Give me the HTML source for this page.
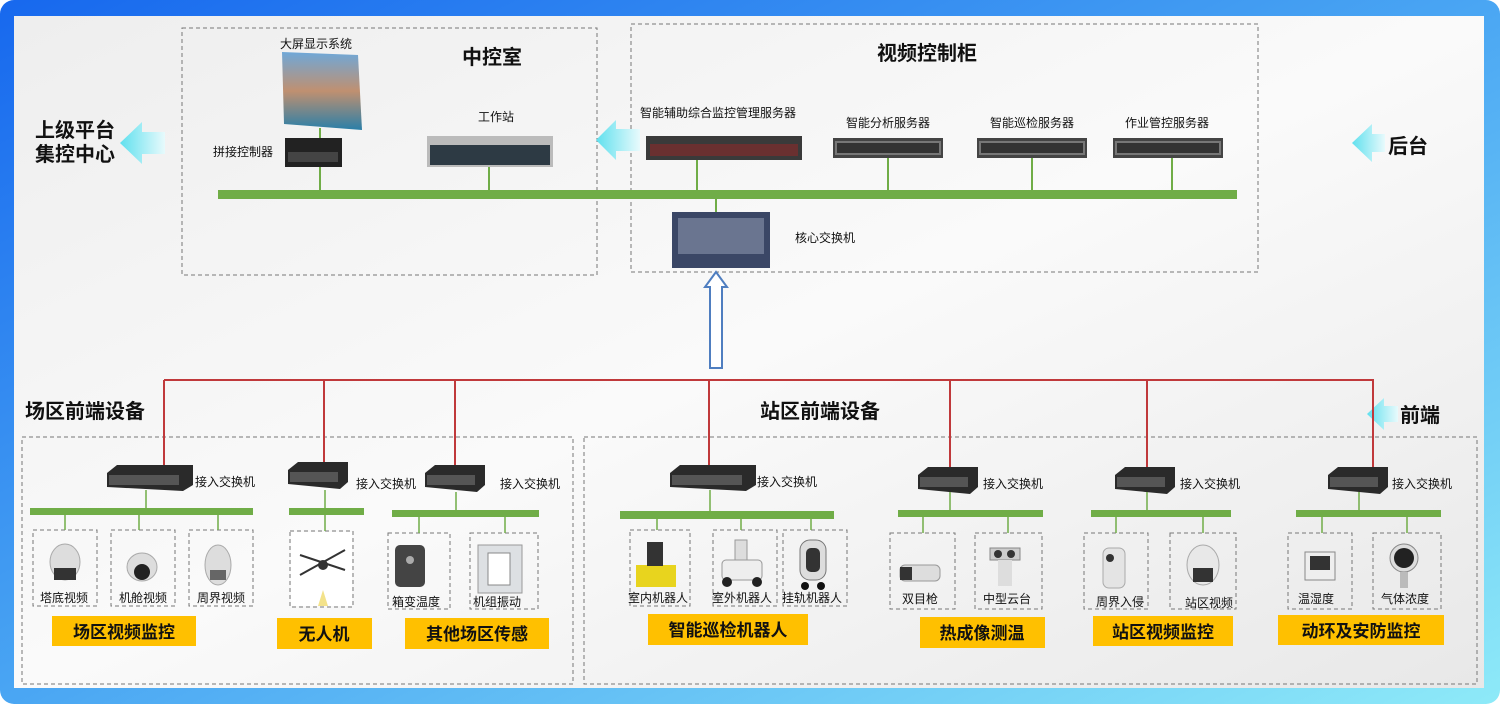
<!DOCTYPE html>
<html><head><meta charset="utf-8"><style>
body{margin:0;width:1500px;height:704px;overflow:hidden;background:#fff}
svg text{font-family:"Liberation Sans","Noto Sans CJK SC",sans-serif}
</style></head><body>
<svg width="1500" height="704" viewBox="0 0 1500 704" xmlns="http://www.w3.org/2000/svg">
<defs>
<linearGradient id="fr" x1="0" y1="0" x2="1" y2="1"><stop offset="0" stop-color="#1768ee"/><stop offset="0.5" stop-color="#4aa6f3"/><stop offset="1" stop-color="#8eeaf8"/></linearGradient>
<linearGradient id="bg" x1="0" y1="0" x2="1" y2="1"><stop offset="0" stop-color="#eeeeee"/><stop offset="0.5" stop-color="#fafafa"/><stop offset="1" stop-color="#e8e8e8"/></linearGradient>
<linearGradient id="ar" x1="0" y1="0" x2="1" y2="0"><stop offset="0" stop-color="#5fe0ee"/><stop offset="1" stop-color="#e8fafc"/></linearGradient>
<linearGradient id="arr" x1="1" y1="0" x2="0" y2="0"><stop offset="0" stop-color="#5fe0ee"/><stop offset="1" stop-color="#e8fafc"/></linearGradient>
<linearGradient id="scr" x1="0" y1="0" x2="0" y2="1"><stop offset="0" stop-color="#6fa8d8"/><stop offset="0.5" stop-color="#c09070"/><stop offset="1" stop-color="#2a7fa8"/></linearGradient>
<g id="srv"><rect width="110" height="20" fill="#444"/><rect x="2" y="3" width="106" height="14" fill="#777"/><rect x="4" y="5" width="102" height="10" fill="#333"/></g>
<g id="sw"><polygon points="0,8 10,0 86,0 86,20 76,26 0,22" fill="#2a2a2a"/><rect x="2" y="10" width="70" height="10" fill="#555"/></g>
<g id="sws"><polygon points="0,8 10,0 60,0 60,20 52,27 0,22" fill="#2a2a2a"/><rect x="2" y="10" width="48" height="10" fill="#555"/></g>
</defs>
<rect x="0" y="0" width="1500" height="704" rx="14" fill="url(#fr)"/>
<rect x="14" y="16" width="1470" height="672" fill="url(#bg)"/>

<g fill="none" stroke="#777" stroke-width="1" stroke-dasharray="4,3">
<rect x="182" y="28" width="415" height="247"/>
<rect x="631" y="24" width="627" height="248"/>
<rect x="22" y="437" width="551" height="247"/>
<rect x="584" y="437" width="893" height="247"/>
<rect x="33" y="530" width="64" height="76"/><rect x="111" y="530" width="64" height="76"/><rect x="189" y="530" width="64" height="76"/>
<rect x="290" y="531" width="63" height="76"/><rect x="388" y="533" width="62" height="76"/><rect x="470" y="533" width="68" height="76"/>
<rect x="630" y="530" width="60" height="76"/><rect x="713" y="530" width="64" height="76"/><rect x="783" y="530" width="64" height="76"/>
<rect x="890" y="533" width="65" height="76"/><rect x="975" y="533" width="67" height="76"/><rect x="1084" y="533" width="64" height="76"/>
<rect x="1170" y="533" width="66" height="76"/><rect x="1288" y="533" width="64" height="76"/><rect x="1373" y="533" width="68" height="76"/>
</g>

<!-- green lines top -->
<g stroke="#70ad47" stroke-width="2">
<line x1="320" y1="128" x2="320" y2="192"/><line x1="489" y1="167" x2="489" y2="192"/><line x1="697" y1="160" x2="697" y2="192"/>
<line x1="888" y1="158" x2="888" y2="192"/><line x1="1032" y1="158" x2="1032" y2="192"/><line x1="1172" y1="158" x2="1172" y2="192"/>
<line x1="716" y1="198" x2="716" y2="212"/>
</g>
<rect x="218" y="190" width="1019" height="9" fill="#70ad47"/>

<!-- top devices -->
<polygon points="282,52 358,55 362,130 284,124" fill="url(#scr)"/>
<rect x="285" y="138" width="57" height="29" fill="#222"/><rect x="288" y="152" width="50" height="10" fill="#444"/>
<rect x="427" y="136" width="126" height="31" fill="#bbb"/><rect x="430" y="145" width="120" height="20" fill="#2d3a44"/>
<use href="#srv" x="646" y="136" transform="translate(0,0)"/><rect x="646" y="136" width="156" height="24" fill="#3a3a3a"/><rect x="650" y="144" width="148" height="12" fill="#8a2a2a" opacity="0.6"/>
<use href="#srv" x="833" y="138"/><use href="#srv" x="977" y="138"/><use href="#srv" x="1113" y="138"/>
<rect x="672" y="212" width="98" height="56" fill="#3b4766"/><rect x="678" y="218" width="86" height="36" fill="#6a7590"/>

<g font-size="12" fill="#111">
<text x="280" y="48">大屏显示系统</text>
<text x="213" y="156">拼接控制器</text>
<text x="478" y="121">工作站</text>
<text x="640" y="117">智能辅助综合监控管理服务器</text>
<text x="846" y="127">智能分析服务器</text>
<text x="990" y="127">智能巡检服务器</text>
<text x="1125" y="127">作业管控服务器</text>
<text x="795" y="242">核心交换机</text>
</g>
<g font-size="20" font-weight="bold" fill="#111">
<text x="462" y="64">中控室</text>
<text x="877" y="60">视频控制柜</text>
<text x="35" y="137">上级平台</text>
<text x="35" y="161">集控中心</text>
<text x="1388" y="153">后台</text>
<text x="1400" y="422">前端</text>
<text x="25" y="418">场区前端设备</text>
<text x="760" y="418">站区前端设备</text>
</g>
<!-- cyan arrows -->
<polygon points="120,143 142,122 142,132 165,132 165,154 142,154 142,164" fill="url(#ar)"/>
<polygon points="596,140 616,120 616,129 640,129 640,151 616,151 616,160" fill="url(#ar)"/>
<polygon points="1352,143 1372,124 1372,134 1385,134 1385,152 1372,152 1372,162" fill="url(#ar)"/>
<polygon points="1367,414 1384,398 1384,406 1398,406 1398,422 1384,422 1384,430" fill="url(#ar)"/>
<!-- hollow arrow -->
<polygon points="716,272 727,287 722,287 722,368 710,368 710,287 705,287" fill="#fff" stroke="#4f7ec0" stroke-width="2"/>

<!-- red -->
<g stroke="#c0393b" stroke-width="2">
<line x1="164" y1="380" x2="1374" y2="380"/>
<line x1="164" y1="380" x2="164" y2="466"/><line x1="324" y1="380" x2="324" y2="464"/><line x1="455" y1="380" x2="455" y2="466"/>
<line x1="709" y1="380" x2="709" y2="466"/><line x1="950" y1="380" x2="950" y2="468"/><line x1="1147" y1="380" x2="1147" y2="468"/><line x1="1373" y1="380" x2="1373" y2="468"/>
</g>
<use href="#sw" x="107" y="465"/><use href="#sws" x="288" y="462"/><use href="#sws" x="425" y="465"/><use href="#sw" x="670" y="465"/>
<use href="#sws" x="918" y="467"/><use href="#sws" x="1115" y="467"/><use href="#sws" x="1328" y="467"/>
<g font-size="12" fill="#111">
<text x="195" y="486">接入交换机</text><text x="356" y="488">接入交换机</text><text x="500" y="488">接入交换机</text>
<text x="757" y="486">接入交换机</text><text x="983" y="488">接入交换机</text><text x="1180" y="488">接入交换机</text><text x="1392" y="488">接入交换机</text>
</g>
<!-- green sub -->
<g fill="#70ad47">
<rect x="30" y="508" width="223" height="7"/><rect x="289" y="508" width="75" height="7"/><rect x="392" y="510" width="147" height="7"/>
<rect x="620" y="511" width="214" height="8"/><rect x="898" y="510" width="145" height="7"/><rect x="1091" y="510" width="140" height="7"/><rect x="1296" y="510" width="145" height="7"/>
</g>
<g stroke="#70ad47" stroke-width="1.5">
<line x1="146" y1="490" x2="146" y2="510"/><line x1="65" y1="514" x2="65" y2="530"/><line x1="139" y1="514" x2="139" y2="530"/><line x1="218" y1="514" x2="218" y2="530"/>
<line x1="325" y1="490" x2="325" y2="531"/>
<line x1="456" y1="492" x2="456" y2="512"/><line x1="419" y1="516" x2="419" y2="533"/><line x1="505" y1="516" x2="505" y2="533"/>
<line x1="710" y1="490" x2="710" y2="512"/><line x1="657" y1="518" x2="657" y2="530"/><line x1="741" y1="518" x2="741" y2="530"/><line x1="811" y1="518" x2="811" y2="530"/>
<line x1="950" y1="492" x2="950" y2="512"/><line x1="923" y1="516" x2="923" y2="533"/><line x1="1008" y1="516" x2="1008" y2="533"/>
<line x1="1147" y1="492" x2="1147" y2="512"/><line x1="1116" y1="516" x2="1116" y2="533"/><line x1="1203" y1="516" x2="1203" y2="533"/>
<line x1="1359" y1="492" x2="1359" y2="512"/><line x1="1322" y1="516" x2="1322" y2="533"/><line x1="1407" y1="516" x2="1407" y2="533"/>
</g>
<!-- device icons -->
<g>
<ellipse cx="65" cy="562" rx="15" ry="18" fill="#ddd" stroke="#aaa"/><rect x="54" y="568" width="22" height="12" fill="#333"/>
<ellipse cx="142" cy="567" rx="15" ry="14" fill="#ddd" stroke="#aaa"/><circle cx="142" cy="572" r="8" fill="#222"/>
<ellipse cx="218" cy="565" rx="13" ry="20" fill="#ddd" stroke="#aaa"/><rect x="210" y="570" width="16" height="10" fill="#666"/>
<rect x="291" y="532" width="61" height="74" fill="#fff"/><line x1="300" y1="555" x2="345" y2="570" stroke="#333" stroke-width="2"/><line x1="300" y1="575" x2="345" y2="550" stroke="#333" stroke-width="2"/><circle cx="323" cy="565" r="5" fill="#333"/><polygon points="318,606 323,590 328,606" fill="#f3e28a"/>
<rect x="395" y="545" width="30" height="42" rx="5" fill="#444"/><circle cx="410" cy="560" r="4" fill="#aaa"/>
<rect x="478" y="545" width="44" height="48" fill="#dde0e3" stroke="#999"/><rect x="488" y="553" width="22" height="32" fill="#fff" stroke="#888"/>
<rect x="636" y="565" width="40" height="22" fill="#e8d41e"/><rect x="647" y="542" width="16" height="24" fill="#333"/>
<rect x="722" y="560" width="40" height="20" rx="4" fill="#eee" stroke="#999"/><circle cx="727" cy="582" r="5" fill="#222"/><circle cx="757" cy="582" r="5" fill="#222"/><rect x="735" y="540" width="12" height="20" fill="#ddd" stroke="#999"/>
<rect x="800" y="540" width="26" height="40" rx="10" fill="#ddd" stroke="#777"/><rect x="806" y="548" width="14" height="24" rx="5" fill="#333"/><circle cx="805" cy="586" r="4" fill="#111"/><circle cx="821" cy="586" r="4" fill="#111"/>
<rect x="900" y="565" width="40" height="16" rx="5" fill="#ddd" stroke="#999"/><rect x="900" y="567" width="12" height="13" fill="#333"/>
<rect x="990" y="548" width="30" height="12" fill="#ccc" stroke="#888"/><circle cx="998" cy="554" r="4" fill="#333"/><circle cx="1011" cy="554" r="4" fill="#333"/><rect x="998" y="560" width="14" height="26" fill="#ddd"/>
<rect x="1103" y="548" width="22" height="40" rx="6" fill="#e4e4e4" stroke="#aaa"/><circle cx="1110" cy="558" r="4" fill="#333"/>
<ellipse cx="1203" cy="565" rx="16" ry="20" fill="#e8e8e8" stroke="#aaa"/><rect x="1193" y="568" width="20" height="14" fill="#333"/>
<rect x="1305" y="552" width="30" height="28" fill="#eee" stroke="#888"/><rect x="1310" y="556" width="20" height="14" fill="#333"/>
<circle cx="1404" cy="558" r="14" fill="#ddd" stroke="#888"/><circle cx="1404" cy="558" r="10" fill="#222"/><rect x="1400" y="572" width="8" height="16" fill="#bbb"/>
</g>
<g font-size="12" fill="#111">
<text x="40" y="602">塔底视频</text><text x="119" y="602">机舱视频</text><text x="197" y="602">周界视频</text>
<text x="392" y="606">箱变温度</text><text x="473" y="606">机组振动</text>
<text x="628" y="602">室内机器人</text><text x="712" y="602">室外机器人</text><text x="782" y="602">挂轨机器人</text>
<text x="902" y="603">双目枪</text><text x="983" y="603">中型云台</text><text x="1096" y="606">周界入侵</text><text x="1185" y="607">站区视频</text>
<text x="1298" y="603">温湿度</text><text x="1381" y="603">气体浓度</text>
</g>
<g fill="#ffc000">
<rect x="52" y="616" width="144" height="30"/><rect x="277" y="618" width="95" height="31"/><rect x="405" y="618" width="144" height="31"/>
<rect x="648" y="614" width="160" height="31"/><rect x="920" y="617" width="125" height="31"/><rect x="1093" y="616" width="140" height="30"/><rect x="1278" y="615" width="166" height="30"/>
</g>
<g font-size="17" font-weight="bold" fill="#111" text-anchor="middle">
<text x="124" y="638">场区视频监控</text><text x="324" y="640">无人机</text><text x="477" y="640">其他场区传感</text>
<text x="728" y="636">智能巡检机器人</text><text x="982" y="639">热成像测温</text><text x="1163" y="638">站区视频监控</text><text x="1361" y="637">动环及安防监控</text>
</g>
</svg>
</body></html>
